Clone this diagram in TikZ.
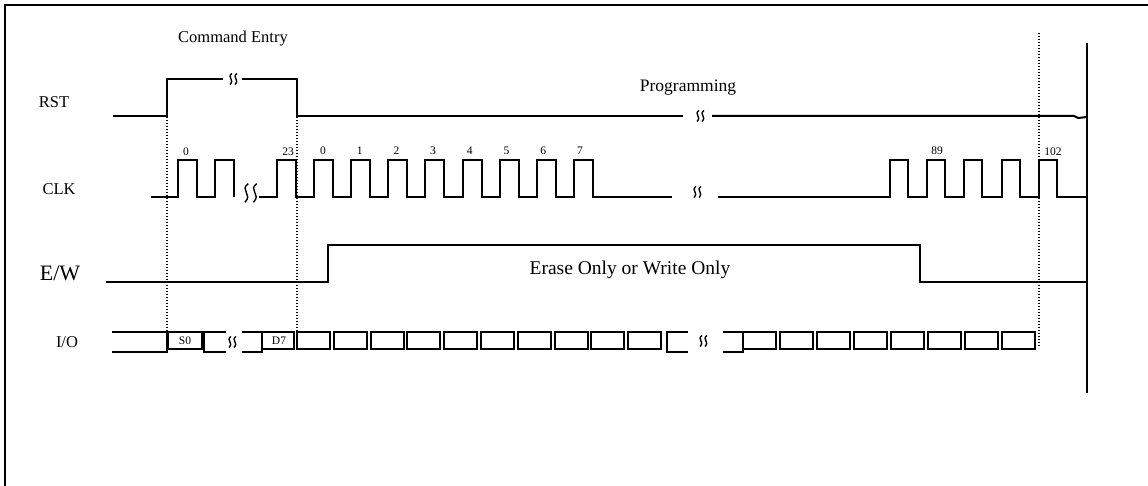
\documentclass[tikz,border=0pt]{standalone}
\usepackage{fontspec}
\setmainfont{Liberation Serif}
\tikzset{
  sig/.style={line width=2pt},
  dotline/.style={line width=1.2pt, dash pattern=on 1.2pt off 1.8pt},
  lbl/.style={font=\fontsize{16.5}{18}\selectfont, inner sep=0pt},
  num/.style={font=\fontsize{11.5}{13}\selectfont, inner sep=0pt},
  brkpic/.pic={
    \draw[line width=1.4pt] (-1,-5.5) .. controls (-6.5,-1.5) and (2,0.5) .. (-3,5.5);
    \draw[line width=1.4pt] (4,-5.5) .. controls (-1.5,-1.5) and (7,0.5) .. (2,5.5);
  },
}
\begin{document}
\begin{tikzpicture}[x=1pt, y=-1pt]
    \useasboundingbox (0,0) rectangle (1148,486);
    % Cadre
    \draw[line width=2pt] (1150,5) -- (5,5) -- (5,490);
    \draw[line width=1.6pt] (1087,43) -- (1087,393);
    % Noms des signaux
    \node[lbl] (rst) at (54,102) {RST};
    \node[lbl] (clk) at (59,189) {CLK};
    \node[font=\fontsize{22}{24}\selectfont, inner sep=0pt] (ew) at (60,273) {E/W};
    \node[lbl] (io) at (67,342) {I/O};
    % Phases
    \node[lbl] (cmd) at (233,39) {Command Entry};
    \node[font=\fontsize{17.5}{19}\selectfont, inner sep=0pt] (prog) at (688,88) {Programming};
    \node[font=\fontsize{19.5}{21}\selectfont, inner sep=0pt] (erase) at (630,270) {Erase Only or Write Only};
    % Lignes pointillees
    \draw[dotline] (167,117) -- (167,332);
    \draw[dotline] (297,117) -- (297,347);
    \draw[dotline] (1039,33) -- (1039,348);
    % RST
    \draw[sig] (113,116) -- (167,116) -- (167,79) -- (223,79);
    \pic at (233,79) {brkpic};
    \draw[sig] (242,79) -- (297,79) -- (297,116) -- (683,116);
    \pic at (700,116) {brkpic};
    \draw[sig] (712,116) -- (1074,116) -- (1078,118) -- (1087,117);
    % CLK
    \draw[sig] (151,197) \foreach \i in {0,1} {
        -- ({178+37*\i},197) -- ({178+37*\i},160) -- ({197+37*\i},160) -- ({197+37*\i},197)};
    \pic[scale=1.7] at (250,193) {brkpic};
    \draw[sig] (259,197) \foreach \i in {0,...,8} {
        -- ({277+37.1*\i},197) -- ({277+37.1*\i},160) -- ({296+37.1*\i},160) -- ({296+37.1*\i},197)}
        -- (672,197);
    \pic at (697,192) {brkpic};
    \draw[sig] (718,197) \foreach \i in {0,...,4} {
        -- ({890+37.2*\i},197) -- ({890+37.2*\i},160) -- ({908+37.2*\i},160) -- ({908+37.2*\i},197)}
        -- (1087,197);
    % Numeros des impulsions
    \node[num] (n0) at (186,152) {0};
    \node[num] (n23) at (288,152) {23};
    \foreach \n in {0,...,7}
        \node[num] (c\n) at ({323+36.7*\n},151) {\n};
    \node[num] (n89) at (937,151) {89};
    \node[num] (n102) at (1053,152) {102};
    % E/W
    \draw[sig] (106,282) -- (328,282) -- (328,245) -- (920,245) -- (920,282) -- (1087,282);
    % I/O
    \draw[sig] (112,332) -- (167,332) -- (167,352) -- (112,352);
    \draw[sig] (168,332) rectangle (202,349);
    \node[num] (s0) at (185,341) {S0};
    \draw[sig] (226,332) -- (204,332) -- (204,352) -- (226,352);
    \pic at (232,342) {brkpic};
    \draw[sig] (242,332) -- (262,332) -- (262,352) -- (242,352);
    \draw[sig] (262,332) rectangle (294,349);
    \node[num] (d7) at (279,341) {D7};
    \foreach \i in {0,...,9}
        \draw[sig] ({297+36.8*\i},332) rectangle +(33,17);
    \draw[sig] (688,332) -- (667,332) -- (667,352) -- (688,352);
    \pic at (703,341) {brkpic};
    \draw[sig] (723,332) -- (743,332) -- (743,352) -- (723,352);
    \foreach \i in {0,...,7}
        \draw[sig] ({743+37*\i},332) rectangle +(33,17);
\end{tikzpicture}
\end{document}
